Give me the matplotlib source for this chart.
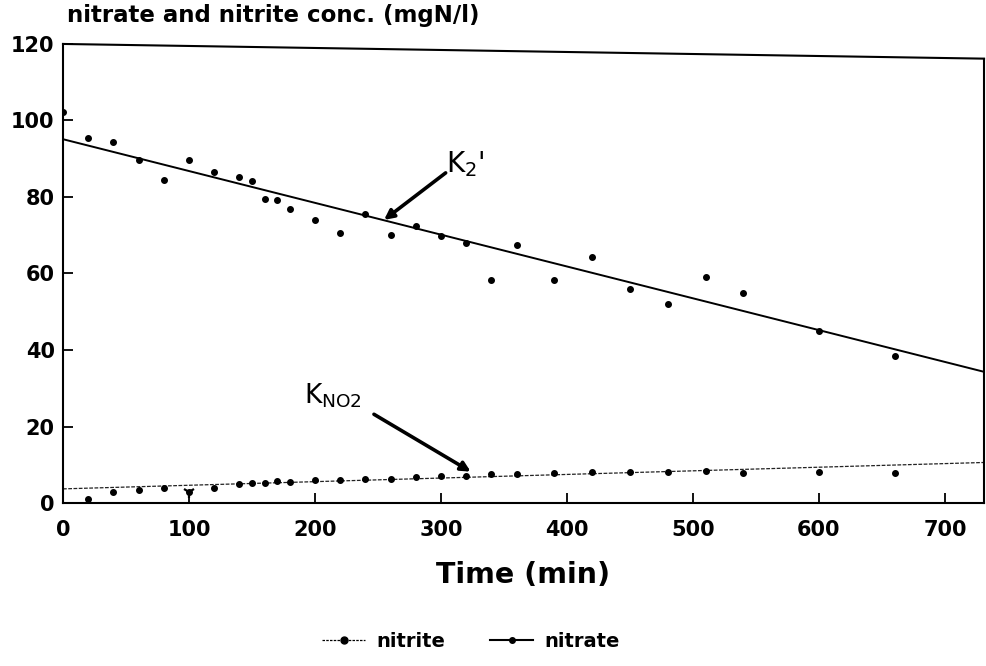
import matplotlib
matplotlib.use("Agg")
import matplotlib.pyplot as plt
from matplotlib.lines import Line2D

# ---- data ----
nitrate_t = [0, 20, 40, 60, 80, 100, 120, 140, 150, 160, 170, 180, 200, 220, 240,
             260, 280, 300, 320, 340, 360, 390, 420, 450, 480, 510, 540, 600, 660]
nitrate = [102.1, 95.3, 94.5, 89.6, 84.5, 89.7, 86.5, 85.1, 84.2, 79.6, 79.3, 76.9,
           73.9, 70.5, 75.5, 70.1, 72.4, 69.7, 68.1, 58.2, 67.4, 58.2, 64.3, 56.0,
           52.1, 59.1, 55.0, 45.0, 38.5]

nitrite_t = [20, 40, 60, 80, 100, 120, 140, 150, 160, 170, 180, 200, 220, 240, 260,
             280, 300, 320, 340, 360, 390, 420, 450, 480, 510, 540, 600, 660]
nitrite = [1.0, 2.8, 3.3, 3.9, 3.0, 4.0, 5.1, 5.3, 5.3, 5.7, 5.5, 6.0, 6.0, 6.4, 6.4,
           6.8, 7.1, 7.0, 7.5, 7.5, 7.9, 8.2, 8.0, 8.0, 8.3, 7.9, 8.2, 7.8]

fit_t = [0, 731]
nitrate_fit = [95.1, 34.3]
nitrite_fit = [3.7, 10.6]

x_ticks = [0, 100, 200, 300, 400, 500, 600, 700]
y_ticks = [0, 20, 40, 60, 80, 100, 120]

# ---- figure ----
fig = plt.figure(figsize=(9.86, 6.66), dpi=100)
ax = fig.add_axes([0.0639, 0.2447, 0.998 - 0.0639, 0.934 - 0.2447])
ax.set_xlim(0, 731)
ax.set_ylim(0, 120)

ax.plot(fit_t, nitrate_fit, color="black", lw=1.4, zorder=2)
ax.plot(fit_t, nitrite_fit, color="#222222", lw=0.9, ls=(0, (3, 1.2)), zorder=2)
ax.plot(nitrate_t, nitrate, ls="none", marker="o", ms=4, color="black", zorder=3)
ax.plot(nitrite_t, nitrite, ls="none", marker="o", ms=4, color="black", zorder=3)
i100 = nitrite_t.index(100)
ax.plot([nitrite_t[i100]], [nitrite[i100]], ls="none", marker="1", ms=9, mew=1.6,
        color="black", zorder=4)

# spines: slanted top, right
for s in ["top", "right"]:
    ax.spines[s].set_visible(False)
for s in ["left", "bottom"]:
    ax.spines[s].set_linewidth(1.5)
ax.plot([0, 1], [1, 0.968], transform=ax.transAxes, color="black", lw=1.5, clip_on=False)
ax.plot([1, 1], [0, 0.968], transform=ax.transAxes, color="black", lw=1.5, clip_on=False)

ax.set_xticks(x_ticks)
ax.set_yticks(y_ticks)
ax.tick_params(axis="both", direction="in", length=7, width=1.3, labelsize=15)
ax.tick_params(axis="x", pad=12)
ax.tick_params(axis="y", pad=6)
for lab in ax.get_xticklabels() + ax.get_yticklabels():
    lab.set_fontweight("bold")

ax.set_xlabel("Time (min)", fontsize=20.5, fontweight="bold", labelpad=15)
fig.text(0.068, 0.977, "nitrate and nitrite conc. (mgN/l)", fontsize=16.5,
         fontweight="bold", ha="left", va="center")

# annotations
arrow = dict(arrowstyle="-|>", lw=2.6, color="black", mutation_scale=14,
             shrinkA=0, shrinkB=0)
ax.annotate("", xy=(254.8, 74.0), xytext=(303.7, 86.3), arrowprops=arrow)
ax.text(304, 88.5, "K$_2$'", fontsize=20, ha="left", va="center")
ax.annotate("", xy=(323.6, 8.2), xytext=(246.8, 23.2), arrowprops=arrow)
ax.text(191, 28.0, "K$_{\\mathrm{NO2}}$", fontsize=19, ha="left", va="center")

# legend
h1 = Line2D([], [], color="black", lw=0.9, ls=(0, (2, 1)), marker="o", ms=5)
h2 = Line2D([], [], color="black", lw=1.5, marker="o", ms=4)
fig.legend([h1, h2], ["nitrite", "nitrate"], loc="center", bbox_to_anchor=(0.478, 0.037),
           ncol=2, frameon=False, prop=dict(size=14, weight="bold"),
           handlelength=2.2, handletextpad=0.6, columnspacing=2.3)

fig.savefig("out.png", dpi=100)
